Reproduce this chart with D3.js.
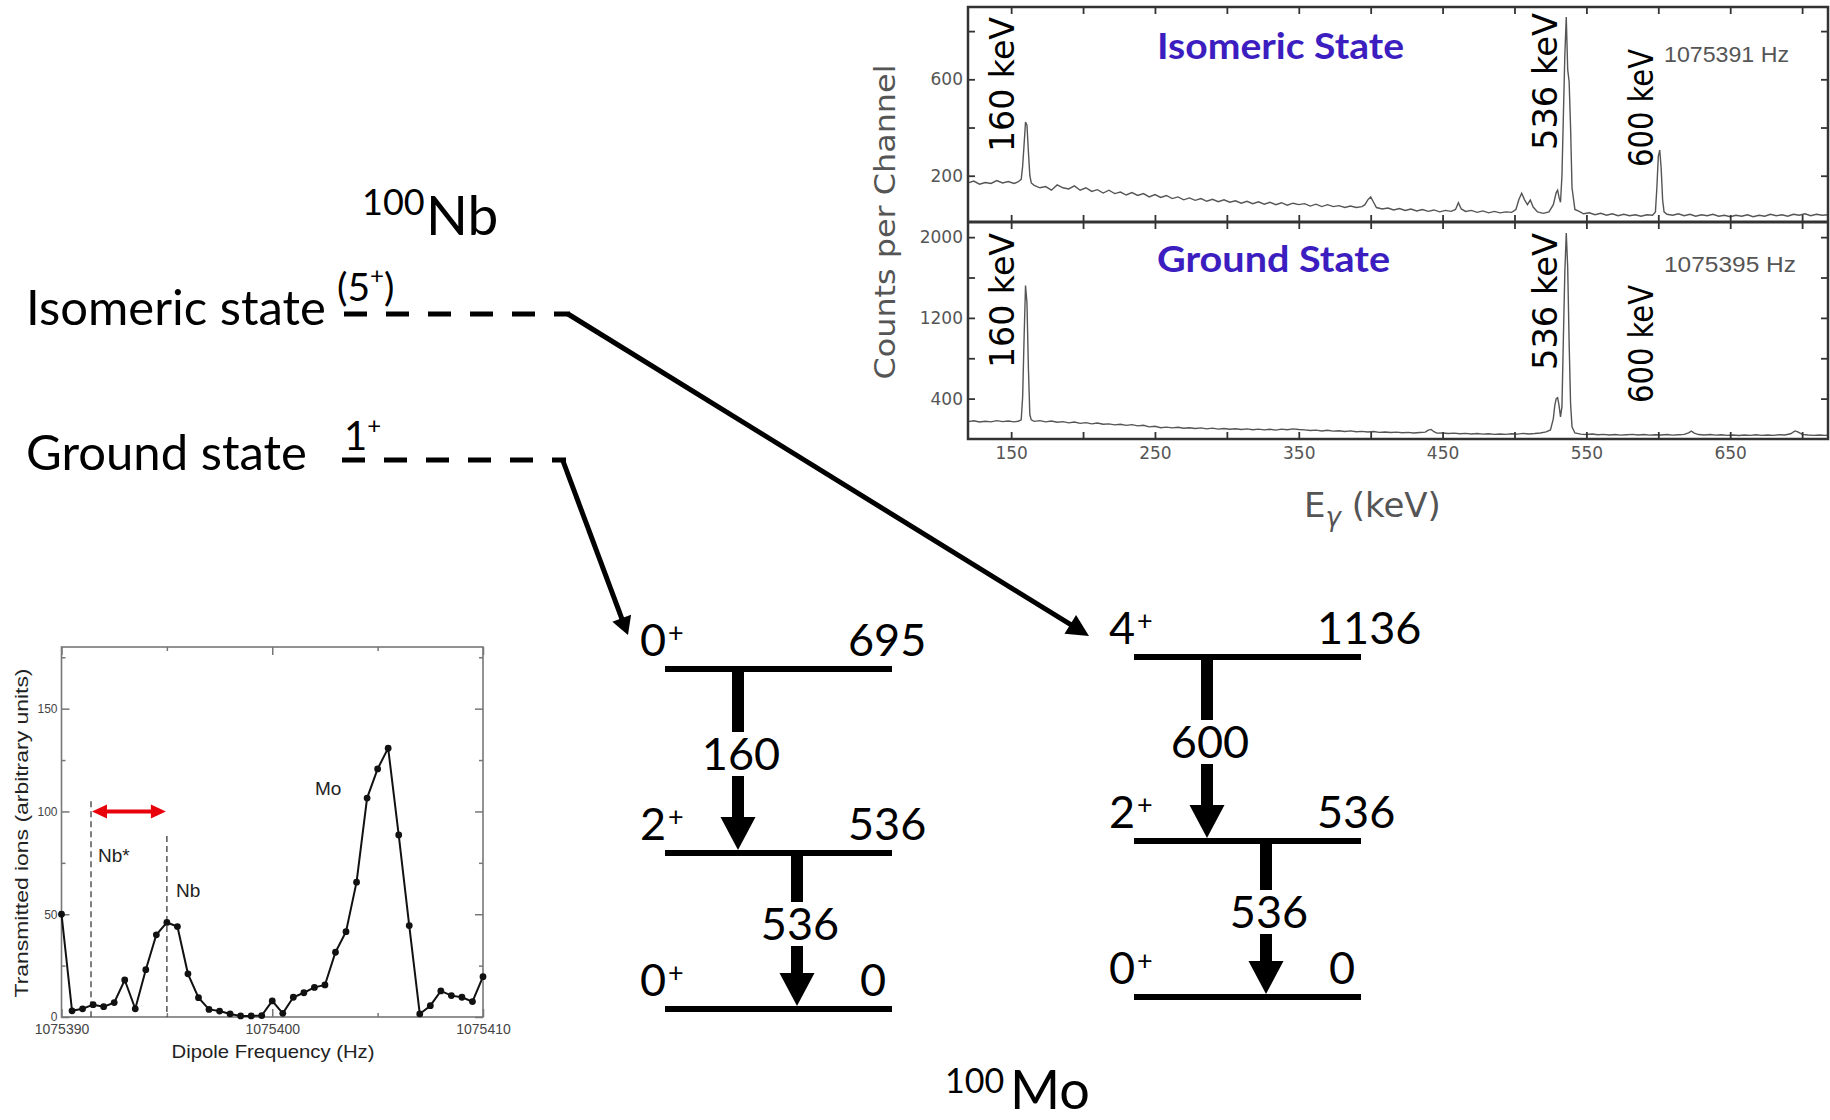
<!DOCTYPE html>
<html>
<head>
<meta charset="utf-8">
<script src="https://cdn.jsdelivr.net/npm/d3@7"></script>
<style>
  body { margin: 0; background: #fff; }
  svg { display: block; }
</style>
</head>
<body>
<svg id="fig" width="1830" height="1120"></svg>
<script>
// ---- gamma spectra (E in keV, counts per channel)
const isomericSpectrum = [
  [120,170],[124,178],[128,165],[132,172],[136,168],[140,180],[144,170],[148,176],[152,168],[155,175],
  [157,185],[158,240],[159,330],[160,423],[161,410],[162,300],[163,200],[164,170],[166,160],[170,150],
  [174,155],[178,140],[182,162],[186,150],[190,145],[194,158],[198,140],[202,150],[206,135],[210,142],
  [214,128],[218,140],[222,126],[226,132],[230,120],[234,130],[238,118],[242,126],[246,112],[250,122],
  [254,110],[258,118],[262,105],[266,112],[270,100],[274,108],[278,98],[282,105],[286,94],[290,102],
  [294,92],[298,100],[302,90],[306,96],[310,86],[314,94],[318,84],[322,92],[326,82],[330,90],
  [334,80],[338,88],[342,78],[346,86],[350,80],[354,84],[358,74],[362,82],[366,72],[370,80],
  [374,72],[378,76],[382,68],[386,74],[390,68],[394,72],[396,80],[398,100],[400,112],[402,90],
  [404,68],[408,62],[412,66],[416,58],[420,64],[424,56],[428,62],[432,54],[436,60],[440,52],
  [444,58],[448,50],[452,56],[456,52],[459,60],[461,88],[463,62],[466,52],[470,56],[474,48],
  [478,54],[482,46],[486,52],[490,46],[494,50],[498,48],[501,60],[503,100],[505,127],[507,100],
  [509,80],[511,99],[513,70],[516,50],[520,44],[524,50],[527,80],[529,130],[530,140],[531,110],
  [532,90],[533,200],[534,450],[535,700],[536,858],[537,640],[538,590],[539,400],[540,150],[542,60],
  [545,52],[548,42],[552,46],[556,38],[560,44],[564,36],[568,42],[572,34],[576,40],[580,34],
  [584,38],[588,32],[592,38],[596,36],[598,50],[599,150],[600,280],[601,306],[602,230],[603,100],
  [604,50],[606,40],[610,36],[614,42],[618,34],[622,40],[626,32],[630,38],[634,34],[638,40],
  [642,32],[646,36],[650,30],[654,36],[658,32],[662,38],[666,30],[670,36],[674,32],[678,40],
  [682,34],[686,38],[690,32],[694,40],[698,36],[702,42],[706,34],[710,40],[714,36],[718,38]
];
const groundSpectrum = [
  [120,172],[124,180],[128,168],[132,176],[136,170],[140,182],[144,172],[148,178],[152,170],[155,176],
  [157,190],[158,420],[159,1000],[160,1520],[161,1350],[162,700],[163,240],[164,190],[166,175],[170,182],
  [174,170],[178,178],[182,166],[186,172],[190,160],[194,168],[198,155],[202,162],[206,150],[210,158],
  [214,146],[218,150],[222,140],[226,146],[230,135],[234,142],[238,130],[242,136],[246,120],[250,126],
  [254,112],[258,118],[262,110],[266,116],[270,106],[274,112],[278,104],[282,110],[286,100],[290,108],
  [294,98],[298,104],[302,96],[306,102],[310,94],[314,100],[318,92],[322,98],[326,90],[330,96],
  [334,88],[338,98],[342,92],[346,100],[350,94],[354,90],[358,84],[362,88],[366,80],[370,86],
  [374,78],[378,82],[382,74],[386,80],[390,72],[394,76],[398,70],[402,74],[406,66],[410,70],
  [414,64],[418,68],[422,62],[426,66],[430,60],[434,64],[438,68],[440,88],[442,95],[444,72],
  [446,58],[450,60],[454,54],[458,58],[462,52],[466,56],[470,50],[474,54],[478,48],[482,52],
  [486,46],[490,50],[494,46],[498,52],[502,48],[506,56],[510,50],[514,54],[518,60],[522,70],
  [525,90],[527,200],[528,330],[529,400],[530,410],[531,330],[532,220],[533,320],[534,1000],[535,1650],
  [536,2040],[537,1700],[538,950],[539,350],[540,120],[542,60],[546,48],[550,44],[554,50],[558,42],
  [562,46],[566,40],[570,44],[574,38],[578,42],[582,46],[586,40],[590,44],[594,38],[598,42],
  [602,40],[606,44],[610,38],[614,42],[618,46],[621,60],[623,78],[625,58],[628,44],[632,40],
  [636,44],[640,38],[644,42],[648,36],[652,40],[656,34],[660,40],[664,36],[668,42],[672,36],
  [676,40],[680,36],[684,42],[688,40],[692,52],[695,80],[697,70],[700,46],[704,40],[708,36],
  [712,40],[716,36],[718,38]
];
const energyTicks = [150, 200, 250, 300, 350, 400, 450, 500, 550, 600, 650, 700];
const energyLabels = [150, 250, 350, 450, 550, 650];
const isoCountTicks = [200, 400, 600, 800];
const isoCountLabels = [200, 600];
const gsCountTicks = [400, 800, 1200, 1600, 2000];
const gsCountLabels = [400, 1200, 2000];
const panelTitles = ["Isomeric State", "Ground State"];
const panelFreqs = ["1075391 Hz", "1075395 Hz"];
const peakEnergies = [160, 536, 600];

// ---- dipole frequency scan
const dipoleFreq = [
  1075390, 1075390.5, 1075391, 1075391.5, 1075392, 1075392.5, 1075393, 1075393.5, 1075394, 1075394.5,
  1075395, 1075395.5, 1075396, 1075396.5, 1075397, 1075397.5, 1075398, 1075398.5, 1075399, 1075399.5,
  1075400, 1075400.5, 1075401, 1075401.5, 1075402, 1075402.5, 1075403, 1075403.5, 1075404, 1075404.5,
  1075405, 1075405.5, 1075406, 1075406.5, 1075407, 1075407.5, 1075408, 1075408.5, 1075409, 1075409.5,
  1075410
];
const transmitted = [
  50, 3, 4, 6, 5, 7, 18, 4, 23, 40,
  46, 44, 21, 9.4, 3.7, 2.9, 1.5, 0.5, 0.5, 0.7,
  7.8, 1.8, 9.6, 11.8, 14.4, 15.6, 31.5, 41.5, 65.6, 106.5,
  120.7, 130.8, 88.6, 44.5, 1.5, 5.5, 12.7, 10.4, 9.6, 7.5,
  19.6
];
const freqTicks = [1075390, 1075400, 1075410];
const freqMinor = [1075395, 1075405];
const ionTicks = [0, 50, 100, 150];
const ionMinor = [25, 75, 125, 175];
const nbIsomerFreq = 1075391.4, nbIsomerTop = 105;
const nbGroundFreq = 1075395.0, nbGroundTop = 88;

// ---- 100Mo level schemes
const spinsA = ["0", "2", "0"], energiesA = [695, 536, 0], gammasA = [160, 536];
const spinsB = ["4", "2", "0"], energiesB = [1136, 536, 0], gammasB = [600, 536];

const svg = d3.select("#fig");
svg.append("rect").attr("width", 1830).attr("height", 1120).attr("fill", "#fff");

const lato = "Lato, 'Noto Sans', sans-serif";
const grayFont = "'DejaVu Sans', sans-serif";

function arrowHead(x1, y1, x2, y2, len, hw) {
  const L = Math.hypot(x2 - x1, y2 - y1), ux = (x2 - x1) / L, uy = (y2 - y1) / L;
  const bx = x2 - ux * len, by = y2 - uy * len;
  return [[x2, y2], [bx - uy * hw, by + ux * hw], [bx + uy * hw, by - ux * hw]];
}

// =============== spectrum ===============
const xE = d3.scaleLinear().domain([120, 718]).range([968, 1828]);
const yIso = d3.scaleLinear().domain([8, 900]).range([222, 7]);
const yGs = d3.scaleLinear().domain([0, 2150]).range([439, 222]);

const spec = svg.append("g");

const defs = svg.append("defs");
defs.append("clipPath").attr("id", "clipIso").append("rect")
    .attr("x", 968).attr("y", 7).attr("width", 860).attr("height", 215);
defs.append("clipPath").attr("id", "clipGs").append("rect")
    .attr("x", 968).attr("y", 222).attr("width", 860).attr("height", 217);

spec.append("path")
    .datum(isomericSpectrum)
    .attr("clip-path", "url(#clipIso)")
    .attr("fill", "none").attr("stroke", "#555").attr("stroke-width", 1.4)
    .attr("d", d3.line().x(d => xE(d[0])).y(d => yIso(d[1])));

spec.append("path")
    .datum(groundSpectrum)
    .attr("clip-path", "url(#clipGs)")
    .attr("fill", "none").attr("stroke", "#555").attr("stroke-width", 1.4)
    .attr("d", d3.line().x(d => xE(d[0])).y(d => yGs(d[1])));

function tickAxis(axisFn, scale, values, labels, transform, pad) {
  return g => {
    g.attr("transform", transform)
     .call(axisFn(scale).tickValues(values).tickSizeInner(-7).tickSizeOuter(0).tickPadding(pad)
        .tickFormat(d => labels.includes(d) ? d : ""));
    g.select(".domain").remove();
    g.selectAll("line").attr("stroke", "#333").attr("stroke-width", 1.8);
    g.attr("font-family", grayFont).attr("font-size", 17);
    g.selectAll("text").attr("fill", "#555");
  };
}

spec.append("g").call(tickAxis(d3.axisLeft, yIso, isoCountTicks, isoCountLabels, "translate(968,0)", 5));
spec.append("g").call(tickAxis(d3.axisRight, yIso, isoCountTicks, [], "translate(1828,0)", 5));
spec.append("g").call(tickAxis(d3.axisTop, xE, energyTicks, [], "translate(0,7)", 5));
spec.append("g").call(tickAxis(d3.axisBottom, xE, energyTicks, [], "translate(0,222)", 5));
spec.append("g").call(tickAxis(d3.axisLeft, yGs, gsCountTicks, gsCountLabels, "translate(968,0)", 5));
spec.append("g").call(tickAxis(d3.axisRight, yGs, gsCountTicks, [], "translate(1828,0)", 5));
spec.append("g").call(tickAxis(d3.axisTop, xE, energyTicks, [], "translate(0,222)", 5));
spec.append("g").call(tickAxis(d3.axisBottom, xE, energyTicks, energyLabels, "translate(0,439)", 8));

spec.append("rect")
    .attr("x", 968).attr("y", 7).attr("width", 860).attr("height", 432)
    .attr("fill", "none").attr("stroke", "#333").attr("stroke-width", 2.5);
spec.append("line")
    .attr("x1", 968).attr("x2", 1828).attr("y1", 222).attr("y2", 222)
    .attr("stroke", "#333").attr("stroke-width", 3);

spec.append("text")
    .attr("transform", "translate(895,222) rotate(-90)")
    .attr("text-anchor", "middle")
    .attr("font-family", grayFont).attr("font-size", 28).attr("fill", "#555")
    .attr("textLength", 315).attr("lengthAdjust", "spacingAndGlyphs")
    .text("Counts per Channel");

const eg = spec.append("text")
    .attr("x", 1304).attr("y", 517)
    .attr("font-family", grayFont).attr("font-size", 34).attr("fill", "#555");
eg.append("tspan").text("E");
eg.append("tspan").attr("font-size", 26).attr("dy", 9).attr("font-style", "italic").text("γ");
eg.append("tspan").attr("dy", -9).text(" (keV)");

const titleY = [59, 272], titleW = [247, 233], freqY = [62, 272], freqW = [125, 132];
panelTitles.forEach((t, i) => {
  spec.append("text")
      .attr("x", 1157).attr("y", titleY[i])
      .attr("font-family", lato).attr("font-weight", 700).attr("font-size", 37)
      .attr("fill", "#3c1ec0")
      .attr("textLength", titleW[i]).attr("lengthAdjust", "spacingAndGlyphs")
      .text(t);
  spec.append("text")
      .attr("x", 1664).attr("y", freqY[i])
      .attr("font-family", "'Liberation Sans', Arial, sans-serif").attr("font-size", 22)
      .attr("fill", "#555")
      .attr("textLength", freqW[i]).attr("lengthAdjust", "spacingAndGlyphs")
      .text(panelFreqs[i]);
});

// rotated peak labels: [x offset from peak, bottom y top panel, bottom y lower panel, length]
const peakLayout = [[12, 152, 368, 135], [9, 150, 370, 137], [5, 167, 403, 118]];
peakEnergies.forEach((e, i) => {
  const [dx, yTop, yBot, len] = peakLayout[i];
  [yTop, yBot].forEach(yy => {
    spec.append("text")
        .attr("transform", `translate(${xE(e) - dx},${yy}) rotate(-90)`)
        .attr("font-family", grayFont).attr("font-size", 33).attr("fill", "#000")
        .attr("textLength", len).attr("lengthAdjust", "spacingAndGlyphs")
        .text(e + " keV");
  });
});

// =============== 100Nb states ===============
const nb = svg.append("g").attr("font-family", lato).attr("fill", "#000");

const nbLabel = nb.append("text");
nbLabel.append("tspan").attr("x", 362).attr("y", 215).attr("font-size", 36).text("100");
nbLabel.append("tspan").attr("x", 426).attr("y", 235).attr("font-size", 55).text("Nb");

nb.append("text").attr("x", 26).attr("y", 325).attr("font-size", 49).text("Isomeric state");
nb.append("text").attr("x", 26).attr("y", 470).attr("font-size", 49).text("Ground state");

const j5 = nb.append("text").attr("x", 337).attr("y", 301).attr("font-size", 39);
j5.append("tspan").text("(5");
j5.append("tspan").attr("font-size", 24).attr("dy", -17).text("+");
j5.append("tspan").attr("dy", 17).text(")");

const j1 = nb.append("text").attr("x", 344).attr("y", 450).attr("font-size", 40);
j1.append("tspan").text("1");
j1.append("tspan").attr("font-size", 24).attr("dy", -16).text("+");

nb.append("line").attr("x1", 344).attr("x2", 570).attr("y1", 314).attr("y2", 314)
    .attr("stroke", "#000").attr("stroke-width", 5).attr("stroke-dasharray", "23 19");
nb.append("line").attr("x1", 342).attr("x2", 566).attr("y1", 460).attr("y2", 460)
    .attr("stroke", "#000").attr("stroke-width", 5).attr("stroke-dasharray", "23 19");

const feeds = [[568, 314, 1089, 636, 22, 11], [563, 461, 628, 635, 18, 10]];
feeds.forEach(([x1, y1, x2, y2, len, hw]) => {
  const head = arrowHead(x1, y1, x2, y2, len, hw);
  const L = Math.hypot(x2 - x1, y2 - y1);
  nb.append("line")
      .attr("x1", x1).attr("y1", y1)
      .attr("x2", x2 - (x2 - x1) / L * (len - 2)).attr("y2", y2 - (y2 - y1) / L * (len - 2))
      .attr("stroke", "#000").attr("stroke-width", 5);
  nb.append("polygon").attr("points", head.map(p => p.join(",")).join(" ")).attr("fill", "#000");
});

// =============== 100Mo level schemes ===============
const levelOffset = d3.scaleOrdinal().domain([0, 1, 2]).range([0, 184, 340]);

function drawScheme(spins, energies, gammas, x0, y0) {
  const g = svg.append("g").attr("font-family", lato).attr("fill", "#000");
  const yl = i => y0 + levelOffset(i);
  energies.forEach((e, i) => {
    g.append("line").attr("x1", x0).attr("x2", x0 + 227).attr("y1", yl(i)).attr("y2", yl(i))
        .attr("stroke", "#000").attr("stroke-width", 6);
    const s = g.append("text").attr("x", x0 - 25).attr("y", yl(i) - 13).attr("font-size", 45);
    s.append("tspan").text(spins[i]);
    s.append("tspan").attr("font-size", 27).attr("dy", -14).attr("dx", 2).text("+");
    g.append("text").attr("x", e === 0 ? x0 + 195 : x0 + 183).attr("y", yl(i) - 13)
        .attr("font-size", 45).text(e);
  });
  gammas.forEach((gam, i) => {
    const x = x0 + 73 + 59 * i, top = yl(i) + 3, tip = yl(i + 1) - 3;
    g.append("rect").attr("x", x - 6).attr("y", top).attr("width", 12).attr("height", tip - 32 - top);
    g.append("polygon")
        .attr("points", [[x, tip], [x - 17.5, tip - 33], [x + 17.5, tip - 33]].map(p => p.join(",")).join(" "));
    const base = (yl(i) + yl(i + 1)) / 2 + 9;
    g.append("rect").attr("x", x - 12).attr("y", base - 38).attr("width", 24).attr("height", 44)
        .attr("fill", "#fff");
    g.append("text").attr("x", x + 3).attr("y", base).attr("text-anchor", "middle")
        .attr("font-size", 45).text(gam);
  });
}
drawScheme(spinsA, energiesA, gammasA, 665, 669);
drawScheme(spinsB, energiesB, gammasB, 1134, 657);

const moLabel = svg.append("text").attr("font-family", lato).attr("fill", "#000");
moLabel.append("tspan").attr("x", 945).attr("y", 1093).attr("font-size", 34).text("100");
moLabel.append("tspan").attr("x", 1010).attr("y", 1109).attr("font-size", 54).text("Mo");

// =============== dipole frequency inset ===============
const xF = d3.scaleLinear().domain([1075390, 1075410]).range([61.5, 483]);
const yT = d3.scaleLinear().domain([0, 180]).range([1017, 647]);
const inset = svg.append("g");
const insetFont = "'Liberation Sans', Arial, sans-serif";

function insetAxis(axisFn, scale, major, minor, labels, transform, fontSize, pad) {
  return g => {
    g.attr("transform", transform);
    g.append("g").call(axisFn(scale).tickValues(major).tickSizeInner(-8).tickSizeOuter(0).tickPadding(pad)
        .tickFormat(d => labels ? d : ""));
    g.append("g").call(axisFn(scale).tickValues(minor).tickSizeInner(-4).tickSizeOuter(0).tickFormat(""));
    g.selectAll(".domain").remove();
    g.selectAll("line").attr("stroke", "#777").attr("stroke-width", 1.5);
    g.selectAll("text")
        .attr("font-family", insetFont).attr("font-size", fontSize).attr("fill", "#444");
  };
}
inset.append("g").call(insetAxis(d3.axisBottom, xF, freqTicks, freqMinor, true, "translate(0,1017)", 14, 7));
inset.append("g").call(insetAxis(d3.axisTop, xF, freqTicks, freqMinor, false, "translate(0,647)", 14, 4));
inset.append("g").call(insetAxis(d3.axisLeft, yT, ionTicks, ionMinor, true, "translate(61.5,0)", 12, 4));
inset.append("g").call(insetAxis(d3.axisRight, yT, ionTicks, ionMinor, false, "translate(483,0)", 12, 4));

inset.append("rect")
    .attr("x", 61.5).attr("y", 647).attr("width", 421.5).attr("height", 370)
    .attr("fill", "none").attr("stroke", "#777").attr("stroke-width", 1.6);

[[nbIsomerFreq, nbIsomerTop], [nbGroundFreq, nbGroundTop]].forEach(([f, top]) => {
  inset.append("line")
      .attr("x1", xF(f)).attr("x2", xF(f)).attr("y1", yT(top)).attr("y2", yT(0))
      .attr("stroke", "#555").attr("stroke-width", 1.5).attr("stroke-dasharray", "6 4");
});

const pts = dipoleFreq.map((f, i) => [f, transmitted[i]]);
inset.append("path")
    .datum(pts)
    .attr("fill", "none").attr("stroke", "#111").attr("stroke-width", 2)
    .attr("d", d3.line().x(d => xF(d[0])).y(d => yT(d[1])));
inset.selectAll(".pt")
    .data(pts)
    .enter().append("circle")
    .attr("class", "pt")
    .attr("cx", d => xF(d[0])).attr("cy", d => yT(d[1])).attr("r", 3.4)
    .attr("fill", "#111");

// red double arrow between the two Nb states
const ra = xF(nbIsomerFreq) + 1, rb = xF(nbGroundFreq) - 1, ry = yT(100);
inset.append("line").attr("x1", ra + 12).attr("x2", rb - 12).attr("y1", ry).attr("y2", ry)
    .attr("stroke", "#e8000b").attr("stroke-width", 4);
[[ra, 1], [rb, -1]].forEach(([x, s]) => {
  inset.append("polygon")
      .attr("points", [[x, ry], [x + s * 15, ry - 7], [x + s * 15, ry + 7]].map(p => p.join(",")).join(" "))
      .attr("fill", "#e8000b");
});

const insetLabels = [["Nb*", 98, 862], ["Nb", 176, 897], ["Mo", 315, 795]];
insetLabels.forEach(([t, x, y]) => {
  inset.append("text").attr("x", x).attr("y", y)
      .attr("font-family", insetFont).attr("font-size", 19).attr("fill", "#222").text(t);
});

inset.append("text")
    .attr("transform", "translate(28,833) rotate(-90)")
    .attr("text-anchor", "middle")
    .attr("font-family", insetFont).attr("font-size", 19).attr("fill", "#222")
    .attr("textLength", 329).attr("lengthAdjust", "spacingAndGlyphs")
    .text("Transmitted ions (arbitrary units)");
inset.append("text")
    .attr("x", 273).attr("y", 1058).attr("text-anchor", "middle")
    .attr("font-family", insetFont).attr("font-size", 19).attr("fill", "#222")
    .attr("textLength", 203).attr("lengthAdjust", "spacingAndGlyphs")
    .text("Dipole Frequency (Hz)");
</script>
</body>
</html>
